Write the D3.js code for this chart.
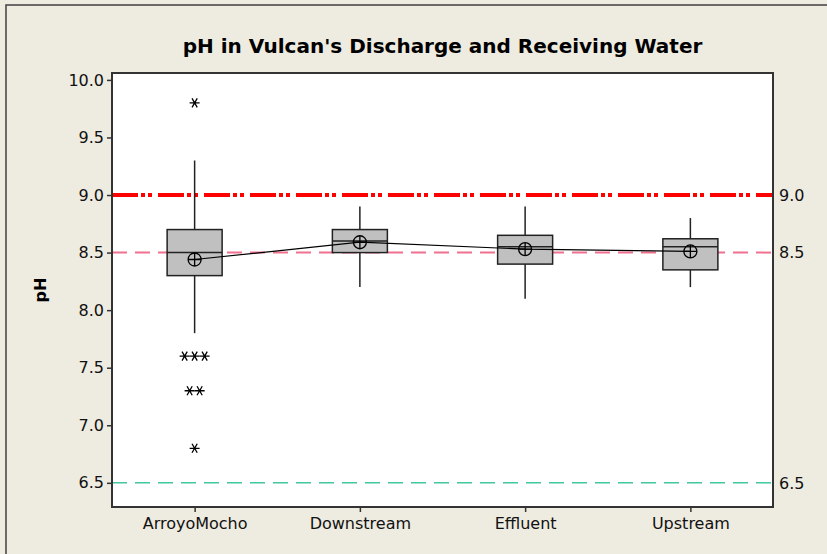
<!DOCTYPE html>
<html>
<head>
<meta charset="utf-8">
<script src="https://cdn.jsdelivr.net/npm/d3@7"></script>
<style>
  body { margin: 0; background: #eeebe0; }
  svg { display: block; font-family: "DejaVu Sans", Verdana, sans-serif; }
</style>
</head>
<body>
<script>
const w = 827;
const h = 554;
const margin = {top: 73, right: 54, bottom: 47, left: 112};

// box plot summary per group
const groups = ["ArroyoMocho", "Downstream", "Effluent", "Upstream"];
const whiskerLow = [7.8, 8.2, 8.1, 8.2];
const q1 = [8.3, 8.5, 8.4, 8.35];
const median = [8.5, 8.6, 8.55, 8.55];
const q3 = [8.7, 8.7, 8.65, 8.62];
const whiskerHigh = [9.3, 8.9, 8.9, 8.8];
const means = [8.44, 8.59, 8.53, 8.51];

// outliers (all in ArroyoMocho)
const outlierGroup = ["ArroyoMocho", "ArroyoMocho", "ArroyoMocho", "ArroyoMocho", "ArroyoMocho", "ArroyoMocho", "ArroyoMocho"];
const outlierValue = [9.8, 7.6, 7.6, 7.6, 7.3, 7.3, 6.8];

// reference lines
const refValues = [9.0, 8.5, 6.5];
const refLabels = ["9.0", "8.5", "6.5"];

const yTicks = [6.5, 7.0, 7.5, 8.0, 8.5, 9.0, 9.5, 10.0];
const yDomain = [6.29, 10.06];

const svg = d3.select("body")
  .append("svg")
  .attr("width", w)
  .attr("height", h);

// outer frame
svg.append("rect")
  .attr("x", 6).attr("y", 5)
  .attr("width", w).attr("height", h)
  .attr("fill", "#eeebe0")
  .attr("stroke", "#404040")
  .attr("stroke-width", 1.5);

const x = d3.scalePoint()
  .domain(groups)
  .range([margin.left, w - margin.right])
  .padding(0.5);

const y = d3.scaleLinear()
  .domain(yDomain)
  .range([h - margin.bottom, margin.top]);

// plot area
svg.append("rect")
  .attr("x", margin.left).attr("y", margin.top)
  .attr("width", w - margin.left - margin.right)
  .attr("height", h - margin.top - margin.bottom)
  .attr("fill", "#fff");

// title
svg.append("text")
  .attr("x", (margin.left + w - margin.right) / 2)
  .attr("y", 53)
  .attr("text-anchor", "middle")
  .style("font-weight", "bold")
  .style("font-size", "20px")
  .text("pH in Vulcan's Discharge and Receiving Water");

// y axis label
svg.append("text")
  .attr("transform", "translate(46," + ((margin.top + h - margin.bottom) / 2) + ") rotate(-90)")
  .attr("text-anchor", "middle")
  .style("font-weight", "bold")
  .style("font-size", "16px")
  .text("pH");

// reference lines
const refStyle = [
  {color: "#ff0000", width: 4, dash: "26,3,4,3,4,6"},
  {color: "#f07090", width: 2, dash: "15,8"},
  {color: "#40c8a0", width: 1.5, dash: "15,8"}
];
refValues.forEach((v, i) => {
  svg.append("line")
    .attr("x1", margin.left).attr("x2", w - margin.right)
    .attr("y1", y(v)).attr("y2", y(v))
    .attr("stroke", refStyle[i].color)
    .attr("stroke-width", refStyle[i].width)
    .attr("stroke-dasharray", refStyle[i].dash);
  svg.append("text")
    .attr("x", w - margin.right + 6)
    .attr("y", y(v))
    .attr("dy", "0.36em")
    .style("font-size", "16px")
    .attr("fill", "#111")
    .text(refLabels[i]);
});

const boxW = 55;
const ink = "#222";

// whiskers
groups.forEach((g, i) => {
  svg.append("line")
    .attr("x1", x(g)).attr("x2", x(g))
    .attr("y1", y(whiskerHigh[i])).attr("y2", y(q3[i]))
    .attr("stroke", ink).attr("stroke-width", 1.5);
  svg.append("line")
    .attr("x1", x(g)).attr("x2", x(g))
    .attr("y1", y(q1[i])).attr("y2", y(whiskerLow[i]))
    .attr("stroke", ink).attr("stroke-width", 1.5);
});

// boxes
svg.selectAll("rect.box")
  .data(groups)
  .enter()
  .append("rect")
  .attr("class", "box")
  .attr("x", (d) => x(d) - boxW / 2)
  .attr("y", (d, i) => y(q3[i]))
  .attr("width", boxW)
  .attr("height", (d, i) => y(q1[i]) - y(q3[i]))
  .attr("fill", "#c0c0c0")
  .attr("stroke", ink)
  .attr("stroke-width", 1.5);

// medians
svg.selectAll("line.median")
  .data(groups)
  .enter()
  .append("line")
  .attr("x1", (d) => x(d) - boxW / 2)
  .attr("x2", (d) => x(d) + boxW / 2)
  .attr("y1", (d, i) => y(median[i]))
  .attr("y2", (d, i) => y(median[i]))
  .attr("stroke", ink)
  .attr("stroke-width", 1.5);

// mean connect line
svg.append("path")
  .datum(groups)
  .attr("fill", "none")
  .attr("stroke", "#000")
  .attr("stroke-width", 1.2)
  .attr("d", d3.line().x((d) => x(d)).y((d, i) => y(means[i])));

// mean symbols: circle with cross
const r = 6.5;
groups.forEach((g, i) => {
  const cx = x(g), cy = y(means[i]);
  const m = svg.append("g");
  m.append("circle")
    .attr("cx", cx).attr("cy", cy).attr("r", r)
    .attr("fill", "none").attr("stroke", "#000").attr("stroke-width", 1.3);
  m.append("path")
    .attr("d", "M" + (cx - r) + "," + cy + "H" + (cx + r) + "M" + cx + "," + (cy - r) + "V" + (cy + r))
    .attr("stroke", "#000").attr("stroke-width", 1.3);
});

// outliers: stack equal values side by side
const seen = {};
const counts = {};
outlierValue.forEach((v, i) => {
  const k = outlierGroup[i] + v;
  counts[k] = (counts[k] || 0) + 1;
});
outlierValue.forEach((v, i) => {
  const k = outlierGroup[i] + v;
  const j = seen[k] || 0;
  seen[k] = j + 1;
  const cx = x(outlierGroup[i]) + (j - (counts[k] - 1) / 2) * 10;
  const cy = y(v);
  const s = 5, dx = 2.6, dy = 4.5;
  svg.append("path")
    .attr("d", "M" + (cx - s) + "," + cy + "H" + (cx + s) +
      "M" + (cx - dx) + "," + (cy - dy) + "L" + (cx + dx) + "," + (cy + dy) +
      "M" + (cx + dx) + "," + (cy - dy) + "L" + (cx - dx) + "," + (cy + dy))
    .attr("stroke", "#000")
    .attr("stroke-width", 1.3);
});

// axes
const yAxis = d3.axisLeft(y)
  .tickValues(yTicks)
  .tickFormat(d3.format(".1f"))
  .tickSize(5)
  .tickPadding(3);
const gy = svg.append("g")
  .attr("transform", "translate(" + margin.left + ",0)")
  .call(yAxis);

const xAxis = d3.axisBottom(x)
  .tickSize(5)
  .tickPadding(6);
const gx = svg.append("g")
  .attr("transform", "translate(0," + (h - margin.bottom) + ")")
  .call(xAxis);

[gx, gy].forEach((g) => {
  g.select(".domain").remove();
  g.selectAll("line").attr("stroke", "#333").attr("stroke-width", 1.5);
  g.selectAll("text")
    .attr("fill", "#111")
    .style("font-size", "16px")
    .style("font-family", "'DejaVu Sans', Verdana, sans-serif");
});

// plot frame
svg.append("rect")
  .attr("x", margin.left).attr("y", margin.top)
  .attr("width", w - margin.left - margin.right)
  .attr("height", h - margin.top - margin.bottom)
  .attr("fill", "none")
  .attr("stroke", "#333")
  .attr("stroke-width", 2);
</script>
</body>
</html>
